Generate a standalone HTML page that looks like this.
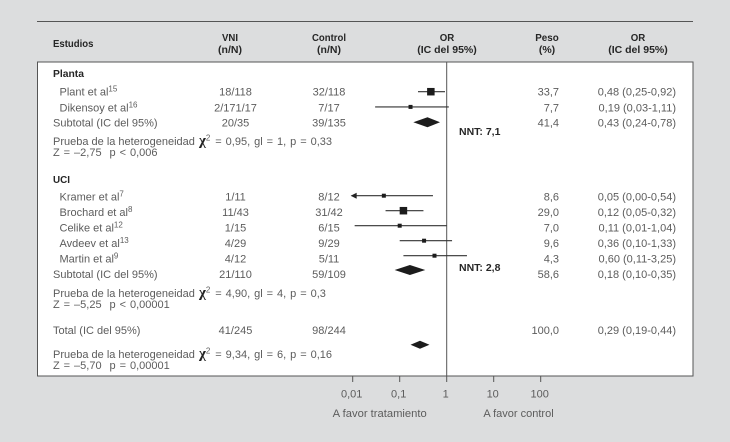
<!DOCTYPE html>
<html lang="es">
<head>
<meta charset="utf-8">
<title>Forest plot VNI vs Control</title>
<style>
html,body{margin:0;padding:0;background:#dcddde;width:730px;height:442px;overflow:hidden}
svg{display:block}
text{font-family:"Liberation Sans",sans-serif;font-size:11px;fill:#5c5c5c;white-space:pre}
.b{font-weight:bold;fill:#262626;font-size:10.5px}
.m{text-anchor:middle}
.r{text-anchor:end}
.chi{font-family:"Liberation Serif",serif;font-weight:bold;font-size:15px;fill:#222}
.w{word-spacing:0.9px}
</style>
</head>
<body>
<svg id="chart" xmlns="http://www.w3.org/2000/svg" width="730" height="442" viewBox="0 0 730 442">
  <line x1="37" x2="693" y1="21.5" y2="21.5" stroke="#555" stroke-width="1"/>
  <rect x="37.5" y="62" width="655.5" height="314" fill="#fff" stroke="#555" stroke-width="1"/>

  <g>
    <text class="b" x="53" y="47" textLength="40.5" lengthAdjust="spacingAndGlyphs">Estudios</text>
    <text class="b m" x="230" y="41" textLength="16" lengthAdjust="spacingAndGlyphs">VNI</text>
    <text class="b m" x="230" y="53">(n/N)</text>
    <text class="b m" x="329" y="41" textLength="34" lengthAdjust="spacingAndGlyphs">Control</text>
    <text class="b m" x="329" y="53">(n/N)</text>
    <text class="b m" x="447" y="41" textLength="14.5" lengthAdjust="spacingAndGlyphs">OR</text>
    <text class="b m" x="447" y="53">(IC del 95%)</text>
    <text class="b m" x="547" y="41" textLength="23.5" lengthAdjust="spacingAndGlyphs">Peso</text>
    <text class="b m" x="547" y="53">(%)</text>
    <text class="b m" x="638" y="41" textLength="14.5" lengthAdjust="spacingAndGlyphs">OR</text>
    <text class="b m" x="638" y="53">(IC del 95%)</text>
  </g>

  <text class="b" x="53" y="77" textLength="31" lengthAdjust="spacingAndGlyphs">Planta</text>
  <text class="b" x="53" y="183" textLength="17" lengthAdjust="spacingAndGlyphs">UCI</text>

  <g>
    <text x="53" y="145">Prueba de la heterogeneidad <tspan class="chi" dx="1">χ</tspan><tspan dy="-4.5" font-size="8">2</tspan><tspan dy="4.5" dx="1" class="w"> = 0,95, gl = 1, p = 0,33</tspan></text>
    <text x="53" y="156" class="w">Z = –2,75  p &lt; 0,006</text>
  </g>
  <g>
    <text x="53" y="297">Prueba de la heterogeneidad <tspan class="chi" dx="1">χ</tspan><tspan dy="-4.5" font-size="8">2</tspan><tspan dy="4.5" dx="1" class="w"> = 4,90, gl = 4, p = 0,3</tspan></text>
    <text x="53" y="308" class="w">Z = –5,25  p &lt; 0,00001</text>
  </g>
  <g>
    <text x="53" y="358">Prueba de la heterogeneidad <tspan class="chi" dx="1">χ</tspan><tspan dy="-4.5" font-size="8">2</tspan><tspan dy="4.5" dx="1" class="w"> = 9,34, gl = 6, p = 0,16</tspan></text>
    <text x="53" y="369" class="w">Z = –5,70  p = 0,00001</text>
  </g>

  <text class="b" x="459" y="135">NNT: 7,1</text>
  <text class="b" x="459" y="271">NNT: 2,8</text>

  <text class="m" x="379.7" y="417" textLength="94" lengthAdjust="spacingAndGlyphs">A favor tratamiento</text>
  <text class="m" x="518.5" y="417">A favor control</text>

  <g id="rows"></g>
  <g id="axis"></g>
  <g id="marks"></g>
</svg>
<script>
// Study rows
var studyNames = ["Plant et al", "Dikensoy et al", "Kramer et al", "Brochard et al", "Celike et al", "Avdeev et al", "Martin et al"];
var studyRefs = ["15", "16", "7", "8", "12", "13", "9"];
var studyGroups = [0, 0, 1, 1, 1, 1, 1];
var studyVni = ["18/118", "2/171/17", "1/11", "11/43", "1/15", "4/29", "4/12"];
var studyControl = ["32/118", "7/17", "8/12", "31/42", "6/15", "9/29", "5/11"];
var studyPeso = ["33,7", "7,7", "8,6", "29,0", "7,0", "9,6", "4,3"];
var studyOrLabel = ["0,48 (0,25-0,92)", "0,19 (0,03-1,11)", "0,05 (0,00-0,54)", "0,12 (0,05-0,32)", "0,11 (0,01-1,04)", "0,36 (0,10-1,33)", "0,60 (0,11-3,25)"];
var studyOr = [0.46, 0.17, 0.046, 0.12, 0.10, 0.33, 0.55];
var studyLo = [0.245, 0.03, 0, 0.05, 0.011, 0.10, 0.12];
var studyHi = [0.92, 1.11, 0.51, 0.32, 1.0, 1.3, 2.7];
var studyBig = [true, false, false, true, false, false, false];

// Pooled rows
var pooledNames = ["Subtotal (IC del 95%)", "Subtotal (IC del 95%)", "Total (IC del 95%)"];
var pooledVni = ["20/35", "21/110", "41/245"];
var pooledControl = ["39/135", "59/109", "98/244"];
var pooledPeso = ["41,4", "58,6", "100,0"];
var pooledOrLabel = ["0,43 (0,24-0,78)", "0,18 (0,10-0,35)", "0,29 (0,19-0,44)"];
var pooledOr = [0.39, 0.165, 0.27];
var pooledLo = [0.195, 0.078, 0.17];
var pooledHi = [0.72, 0.35, 0.43];

// Axis
var tickValues = [0.01, 0.1, 1, 10, 100];
var tickLabels = ["0,01", "0,1", "1", "10", "100"];

var SVGNS = "http://www.w3.org/2000/svg";
var axisMin = 0.0095;
function xScale(v) { return 446.7 + 47 * (Math.log(v) / Math.LN10); }
function xClamped(v) { return xScale(Math.max(v, axisMin)); }

var groupMarkTop = [91.7, 195.7];
var groupMarkStep = [15.2, 15];
var groupTextTop = [95.5, 200.3];
var groupTextStep = [15.8, 15.6];
var rowsG = document.getElementById("rows");
var axisG = document.getElementById("axis");
var marksG = document.getElementById("marks");

function make(tag, attrs, parent) {
  var el = document.createElementNS(SVGNS, tag);
  for (var k in attrs) { el.setAttribute(k, attrs[k]); }
  parent.appendChild(el);
  return el;
}
function addText(str, x, y, cls, parent) {
  var t = make("text", { x: x, y: y, "class": cls }, parent);
  t.textContent = str;
  return t;
}

var groupCounts = [0, 0];
studyNames.forEach(function (name, i) {
  var g = studyGroups[i];
  var idx = groupCounts[g]++;
  var ty = groupTextTop[g] + idx * groupTextStep[g];
  var my = groupMarkTop[g] + idx * groupMarkStep[g];

  var nameEl = addText(name, 59.5, ty, "", rowsG);
  
  
  var sup = make("tspan", { dy: -4, "font-size": "8" }, nameEl);
  sup.textContent = studyRefs[i];

  var vniEl = addText(studyVni[i], 235.5, ty, "m", rowsG);
  
  
  var ctlEl = addText(studyControl[i], 329, ty, "m", rowsG);
  
  
  var pesoEl = addText(studyPeso[i], 559, ty, "r", rowsG);
  
  
  var orEl = addText(studyOrLabel[i], 676, ty, "r", rowsG);
  
  

  var x1 = xClamped(studyLo[i]);
  var x2 = xClamped(studyHi[i]);
  var ci = make("line", { x1: x1, x2: x2, y1: my, y2: my, stroke: "#333", "stroke-width": 1.1 }, marksG);
  
  
  if (studyLo[i] < axisMin) {
    var arrow = make("polygon", { points: (x1 - 1) + "," + my + " " + (x1 + 5) + "," + (my - 3) + " " + (x1 + 5) + "," + (my + 3), fill: "#222" }, marksG);
    
    
  }
  var size = studyBig[i] ? 7.5 : 4;
  var sq = make("rect", { x: xScale(studyOr[i]) - size / 2, y: my - size / 2, width: size, height: size, fill: "#1c1c1c" }, marksG);
  
  
});

var pooledTextY = [126.7, 278, 334];
var pooledMarkY = [122.3, 270, 344.7];
var pooledHalfH = [5, 5, 4];
pooledNames.forEach(function (name, i) {
  var ty = pooledTextY[i];
  var my = pooledMarkY[i];
  var nEl = addText(name, 53, ty, "", rowsG);
  
  
  var vEl = addText(pooledVni[i], 235.5, ty, "m", rowsG);
  
  
  var cEl = addText(pooledControl[i], 329, ty, "m", rowsG);
  
  
  var pEl = addText(pooledPeso[i], 559, ty, "r", rowsG);
  
  
  var oEl = addText(pooledOrLabel[i], 676, ty, "r", rowsG);
  
  

  var h = pooledHalfH[i];
  var pts = xScale(pooledLo[i]) + "," + my + " " + xScale(pooledOr[i]) + "," + (my - h) + " " + xScale(pooledHi[i]) + "," + my + " " + xScale(pooledOr[i]) + "," + (my + h);
  var d = make("polygon", { points: pts, fill: "#1c1c1c" }, marksG);
  
  
});

var refLine = make("line", { x1: xScale(1), x2: xScale(1), y1: 62, y2: 376, stroke: "#555", "stroke-width": 1 }, axisG);


tickValues.forEach(function (v, i) {
  var x = xScale(v);
  var tick = make("line", { x1: x, x2: x, y1: 376, y2: 382, stroke: "#555", "stroke-width": 1 }, axisG);
  
  
  var lab = addText(tickLabels[i], x - 1, 397.5, "m", axisG);
  
  
});
</script>
</body>
</html>
